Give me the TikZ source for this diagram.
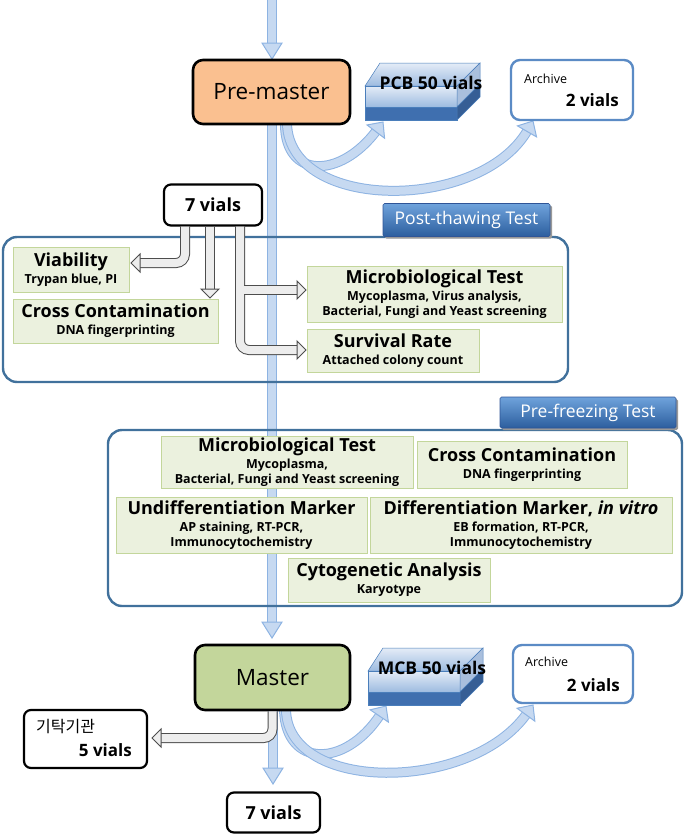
\documentclass[tikz,border=0pt]{standalone}
\usepackage{fontspec}
\setmainfont{Open Sans}
\newfontfamily\krfont{Noto Sans CJK KR}
\usetikzlibrary{calc}
\definecolor{gfill}{HTML}{EBF1DE}
\definecolor{gbord}{HTML}{C3D69B}
\definecolor{frbord}{HTML}{41719C}
\definecolor{lbtop}{HTML}{6FA3DC}
\definecolor{lbbot}{HTML}{2C5E9E}
\definecolor{lbbord}{HTML}{2F5597}
\definecolor{pmfill}{HTML}{FAC090}
\definecolor{msfill}{HTML}{C3D69B}
\definecolor{arbord}{HTML}{5B8BC5}
\definecolor{bfill}{HTML}{C6D9F1}
\definecolor{bbord}{HTML}{8DB3E2}
\definecolor{gyfill}{HTML}{EDEDED}
\definecolor{gybord}{HTML}{4D4D4D}
\definecolor{cbtop}{HTML}{E4ECF7}
\definecolor{cbbot}{HTML}{9DBBE0}
\definecolor{cbdark}{HTML}{3F6FAF}
\definecolor{cbside}{HTML}{A9BFDD}
\definecolor{cbedge}{HTML}{4A7EBB}
\newcommand\headarrow[5]{\filldraw[#1,shift={(#2)},rotate=#3] (0,0) -- (-#4,#5) -- (-#4,-#5) -- cycle;}
\newcommand\gt[1]{{\fontsize{18}{20}\selectfont #1}\\[2pt]}
\begin{document}
\begin{tikzpicture}[x=1pt,y=-1pt,
  greenbox/.style={draw=gbord, fill=gfill, line width=0.8pt, inner sep=0pt, align=center,
     font=\bfseries\fontsize{12.5}{15}\selectfont},
  frame/.style={draw=frbord, line width=2.4pt, rounded corners=14pt, inner sep=0pt},
  blabel/.style={draw=lbbord, top color=lbtop, bottom color=lbbot, text=white, rounded corners=1.5pt,
     font=\fontsize{17.5}{20}\selectfont, inner sep=0pt, line width=0.6pt},
  lshadow/.style={fill=black!40, rounded corners=1.5pt, inner sep=0pt},
  vialsbox/.style={draw=black, line width=2.2pt, rounded corners=7pt, fill=white, inner sep=0pt,
     font=\bfseries\fontsize{18}{20}\selectfont},
  mainbox/.style={draw=black, line width=2.6pt, rounded corners=10pt, inner sep=0pt,
     font=\fontsize{22.5}{26}\selectfont},
  archbox/.style={draw=arbord, line width=2.4pt, rounded corners=9pt, fill=white, inner sep=0pt},
  bshaft/.style={double=bfill, double distance=8pt, line width=1pt, draw=bbord},
  bhead/.style={fill=bfill, draw=bbord, line width=1pt, line join=miter},
  gyshaft/.style={double=gyfill, double distance=8pt, line width=1pt, draw=gybord, rounded corners=9pt},
  gyhead/.style={fill=gyfill, draw=gybord, line width=1pt},
  cubetxt/.style={font=\bfseries\fontsize{17.5}{20}\selectfont, inner sep=0pt},
  smalltxt/.style={font=\fontsize{12.5}{14}\selectfont, inner sep=0pt},
  bigtxt/.style={font=\bfseries\fontsize{17}{19}\selectfont, inner sep=0pt}
]
\useasboundingbox (0,0) rectangle (684,836);

% ---- main vertical flow
\draw[bshaft] (272,0) -- (272,44);
\headarrow{bhead}{272,59}{-90}{16}{10}
\draw[bshaft] (272,124) -- (272,622);
\headarrow{bhead}{272,638}{-90}{16}{10}

% ---- frames
\node[frame, minimum width=565pt, minimum height=145pt] (fr1) at (285.5,309.5) {};
\node[frame, minimum width=574pt, minimum height=176pt] (fr2) at (395,518) {};
\node[lshadow, minimum width=167pt, minimum height=33pt] (lab1s) at (468.5,222) {};
\node[blabel, minimum width=167pt, minimum height=33pt] (lab1) at (466.5,220) {Post-thawing Test};
\node[lshadow, minimum width=176pt, minimum height=31pt] (lab2s) at (590,414.5) {};
\node[blabel, minimum width=176pt, minimum height=31pt] (lab2) at (588,412.5) {Pre-freezing Test};

% ---- top row
\coordinate (pcbtip) at (383,122);
\coordinate (ar1tip) at (533,121);
\draw[bshaft, shorten >=11pt] (285,124) .. controls (285,179) and (340,179) .. (pcbtip);
\headarrow{bhead}{pcbtip}{53}{12}{11}
\draw[bshaft, shorten >=11pt] (287,124) .. controls (290,212) and (480,212) .. (ar1tip);
\headarrow{bhead}{ar1tip}{60}{12}{11}

\node[mainbox, fill=pmfill, minimum width=157pt, minimum height=64pt] (premaster) at (271.5,92) {Pre-master};

% cube PCB
\begin{scope}
\shade[top color=cbtop, bottom color=cbbot, draw=cbedge, line width=.5pt] (365,86) -- (380,63) -- (480,63) -- (457,86) -- cycle;
\shade[top color=cbtop, bottom color=cbbot, draw=cbedge, line width=.5pt] (365,86) rectangle (457,107);
\filldraw[fill=cbdark, draw=cbedge, line width=.5pt] (365,107) rectangle (457,120);
\filldraw[fill=cbside, draw=cbedge, line width=.5pt] (457,86) -- (480,63) -- (480,84) -- (457,107) -- cycle;
\filldraw[fill=cbdark!85!black, draw=cbedge, line width=.5pt] (457,107) -- (480,84) -- (480,97) -- (457,120) -- cycle;
\end{scope}
\node[cubetxt] (pcb) at (431,83) {PCB 50 vials};

\node[archbox, minimum width=122pt, minimum height=60pt] (arch1) at (572,90) {};
\node[smalltxt, anchor=west] (arch1a) at (524,79) {Archive};
\node[bigtxt, anchor=east] (arch1b) at (619,100) {2 vials};

% ---- 7 vials and post-thawing tests
\node[vialsbox, minimum width=98pt, minimum height=41pt] (v7a) at (213,205) {7 vials};

\draw[gyshaft] ($(v7a.south)+(-28,0)$) |- (140,263);
\headarrow{gyhead}{131,263}{180}{9}{9}
\draw[gyshaft] ($(v7a.south)+(-3,0)$) -- (210,289);
\headarrow{gyhead}{210,298}{-90}{9}{9}
\draw[gyshaft] ($(v7a.south)+(27,0)$) |- (297,350);
\headarrow{gyhead}{306,350}{0}{9}{9}
\draw[gyshaft] (244,290) -- (297,290);
\headarrow{gyhead}{306,290}{0}{9}{9}

\node[greenbox, minimum width=116pt, minimum height=45pt] (via) at (71,269.5)
  {\gt{Viability}Trypan blue, PI};
\node[greenbox, minimum width=205pt, minimum height=44pt] (cc1) at (115.5,321)
  {\gt{Cross Contamination}DNA fingerprinting};
\node[greenbox, minimum width=255pt, minimum height=56pt] (mt1) at (434.5,294.5)
  {\gt{Microbiological Test}Mycoplasma, Virus analysis,\\Bacterial, Fungi and Yeast screening};
\node[greenbox, minimum width=172pt, minimum height=43pt] (sr) at (393,351)
  {\gt{Survival Rate}Attached colony count};

% ---- pre-freezing tests
\node[greenbox, minimum width=252pt, minimum height=52pt] (mt2) at (287,462.5)
  {\gt{Microbiological Test}Mycoplasma,\\Bacterial, Fungi and Yeast screening};
\node[greenbox, minimum width=210pt, minimum height=47pt] (cc2) at (522,464.5)
  {\gt{Cross Contamination}DNA fingerprinting};
\node[greenbox, minimum width=251pt, minimum height=56pt] (ud) at (241.5,525)
  {\gt{Undifferentiation Marker}AP staining, RT-PCR,\\Immunocytochemistry};
\node[greenbox, minimum width=302pt, minimum height=56pt] (dm) at (521,525)
  {\gt{Differentiation Marker, \textit{in vitro}}EB formation, RT-PCR,\\Immunocytochemistry};
\node[greenbox, minimum width=202pt, minimum height=44pt] (cy) at (389,580)
  {\gt{Cytogenetic Analysis}Karyotype};

% ---- master row
\coordinate (mcbtip) at (386,706);
\coordinate (ar2tip) at (533,705);
\draw[bshaft] (273,710) -- (273,768);
\headarrow{bhead}{273,784}{-90}{16}{10}
\draw[bshaft, shorten >=11pt] (284,710) .. controls (286,768) and (345,768) .. (mcbtip);
\headarrow{bhead}{mcbtip}{56}{12}{11}
\draw[bshaft, shorten >=11pt] (286,710) .. controls (288,793) and (470,793) .. (ar2tip);
\headarrow{bhead}{ar2tip}{54}{12}{11}

\node[mainbox, fill=msfill, minimum width=155pt, minimum height=65pt] (master) at (272.5,677.5) {Master};

\draw[gyshaft] ($(master.south)+(0,0)$) |- (161,738);
\headarrow{gyhead}{152,738}{180}{9}{9}

\begin{scope}[shift={(3,585)}]
\shade[top color=cbtop, bottom color=cbbot, draw=cbedge, line width=.5pt] (365,86) -- (380,63) -- (480,63) -- (457,86) -- cycle;
\shade[top color=cbtop, bottom color=cbbot, draw=cbedge, line width=.5pt] (365,86) rectangle (457,107);
\filldraw[fill=cbdark, draw=cbedge, line width=.5pt] (365,107) rectangle (457,120);
\filldraw[fill=cbside, draw=cbedge, line width=.5pt] (457,86) -- (480,63) -- (480,84) -- (457,107) -- cycle;
\filldraw[fill=cbdark!85!black, draw=cbedge, line width=.5pt] (457,107) -- (480,84) -- (480,97) -- (457,120) -- cycle;
\end{scope}
\node[cubetxt] (mcb) at (432,668) {MCB 50 vials};

\node[archbox, minimum width=120pt, minimum height=58pt] (arch2) at (573,674) {};
\node[smalltxt, anchor=west] (arch2a) at (525,662) {Archive};
\node[bigtxt, anchor=east] (arch2b) at (620,685) {2 vials};

\node[vialsbox, minimum width=123pt, minimum height=58pt] (dep) at (85.5,739) {};
\node[font=\krfont\fontsize{16}{18}\selectfont, inner sep=0pt, anchor=west] (depa) at (36,726) {기탁기관};
\node[bigtxt, anchor=east] (depb) at (132,750) {5 vials};

\node[vialsbox, minimum width=93pt, minimum height=40pt] (v7b) at (273.5,812.5) {7 vials};
\end{tikzpicture}
\end{document}
